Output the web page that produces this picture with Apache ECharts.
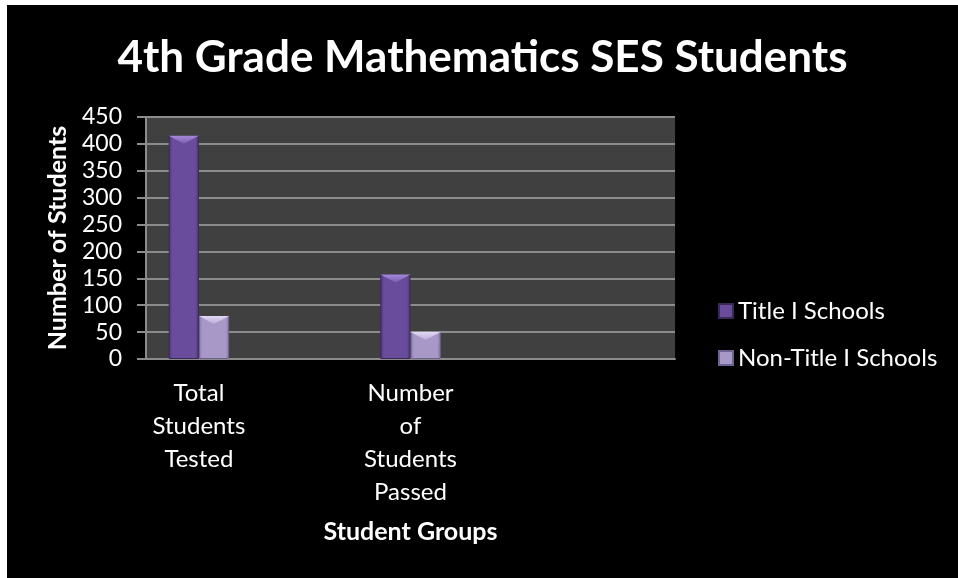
<!DOCTYPE html>
<html>
<head>
<meta charset="utf-8">
<script src="https://cdn.jsdelivr.net/npm/echarts@6/dist/echarts.min.js"></script>
<style>
  html, body { margin: 0; padding: 0; background: #ffffff; }
  #chart { position: absolute; left: 7px; top: 5px; width: 951px; height: 573px; background: #000000; }
</style>
</head>
<body>
<div id="chart"></div>
<script>
// Student groups (blank slots keep the original column spacing)
const categories = ['Total\nStudents\nTested', '', 'Number\nof\nStudents\nPassed', '', ''];
const titleISchools = [415, null, 157, null, null];
const nonTitleISchools = [80, null, 50, null, null];
const yTicks = [0, 50, 100, 150, 200, 250, 300, 350, 400, 450];

const FONT = 'Lato, "Open Sans", sans-serif';
const BAR_GAP = '0%';
const CATEGORY_GAP = '42.86%';

function columnFill(edge, mid) {
  return new echarts.graphic.LinearGradient(0, 0, 1, 0, [
    { offset: 0, color: edge },
    { offset: 0.12, color: mid },
    { offset: 0.88, color: mid },
    { offset: 1, color: edge }
  ]);
}

// lighter bevel cap sitting on top of each column
function bevelCap(name, values, light, mid) {
  return {
    name: name,
    type: 'pictorialBar',
    data: values,
    barGap: BAR_GAP,
    barCategoryGap: CATEGORY_GAP,
    symbol: 'path://M0,0L20,0L10,6Z',
    symbolPosition: 'end',
    symbolSize: ['100%', 8],
    symbolClip: false,
    z: 3,
    itemStyle: {
      color: new echarts.graphic.LinearGradient(0, 0, 0, 1, [
        { offset: 0, color: light },
        { offset: 1, color: mid }
      ])
    },
    tooltip: { show: false },
    legendHoverLink: false
  };
}

const chart = echarts.init(document.getElementById('chart'), null, { renderer: 'canvas' });
chart.setOption({
  backgroundColor: '#000000',
  animation: false,
  title: {
    text: '4th Grade Mathematics SES Students',
    left: 'center',
    top: 26,
    textStyle: { color: '#ffffff', fontFamily: FONT, fontWeight: 'bold', fontSize: 44 }
  },
  legend: {
    orient: 'vertical',
    left: 711,
    top: 294,
    padding: 0,
    itemWidth: 14,
    itemHeight: 14,
    itemGap: 23,
    icon: 'rect',
    textStyle: { color: '#ffffff', fontFamily: FONT, fontSize: 24 },
    data: ['Title I Schools', 'Non-Title I Schools']
  },
  grid: { left: 139, right: 283, top: 112, bottom: 219, show: true, backgroundColor: '#404040', borderWidth: 0 },
  xAxis: {
    type: 'category',
    data: categories,
    name: 'Student Groups',
    nameLocation: 'middle',
    nameGap: 160,
    nameTextStyle: { color: '#ffffff', fontFamily: FONT, fontWeight: 'bold', fontSize: 25 },
    axisLine: { lineStyle: { color: '#8c8c8c', width: 2 } },
    axisTick: { show: false },
    axisLabel: { color: '#ffffff', fontFamily: FONT, fontSize: 24, lineHeight: 33, margin: 18, interval: 0 }
  },
  yAxis: {
    type: 'value',
    min: yTicks[0],
    max: yTicks[yTicks.length - 1],
    interval: 50,
    name: 'Number of Students',
    nameLocation: 'middle',
    nameGap: 76,
    nameTextStyle: { color: '#ffffff', fontFamily: FONT, fontWeight: 'bold', fontSize: 25 },
    axisLine: { show: true, lineStyle: { color: '#8c8c8c', width: 2 } },
    axisTick: { show: true, length: 9, lineStyle: { color: '#8c8c8c', width: 2 } },
    splitLine: { lineStyle: { color: '#8c8c8c', width: 2 } },
    axisLabel: { color: '#ffffff', fontFamily: FONT, fontSize: 23, margin: 24 }
  },
  series: [
    {
      name: 'Title I Schools',
      type: 'bar',
      data: titleISchools,
      barGap: BAR_GAP,
      barCategoryGap: CATEGORY_GAP,
      itemStyle: { color: columnFill('#4a3470', '#6a4c9c'), borderColor: '#3a2a58', borderWidth: 1 }
    },
    {
      name: 'Non-Title I Schools',
      type: 'bar',
      data: nonTitleISchools,
      barGap: BAR_GAP,
      barCategoryGap: CATEGORY_GAP,
      itemStyle: { color: columnFill('#8a7aac', '#a898c8'), borderColor: '#6f6290', borderWidth: 1 }
    },
    bevelCap('Title I Schools', titleISchools, '#a58ad8', '#7a5cb0'),
    bevelCap('Non-Title I Schools', nonTitleISchools, '#e2d8f6', '#b8aad6')
  ]
});
</script>
</body>
</html>
